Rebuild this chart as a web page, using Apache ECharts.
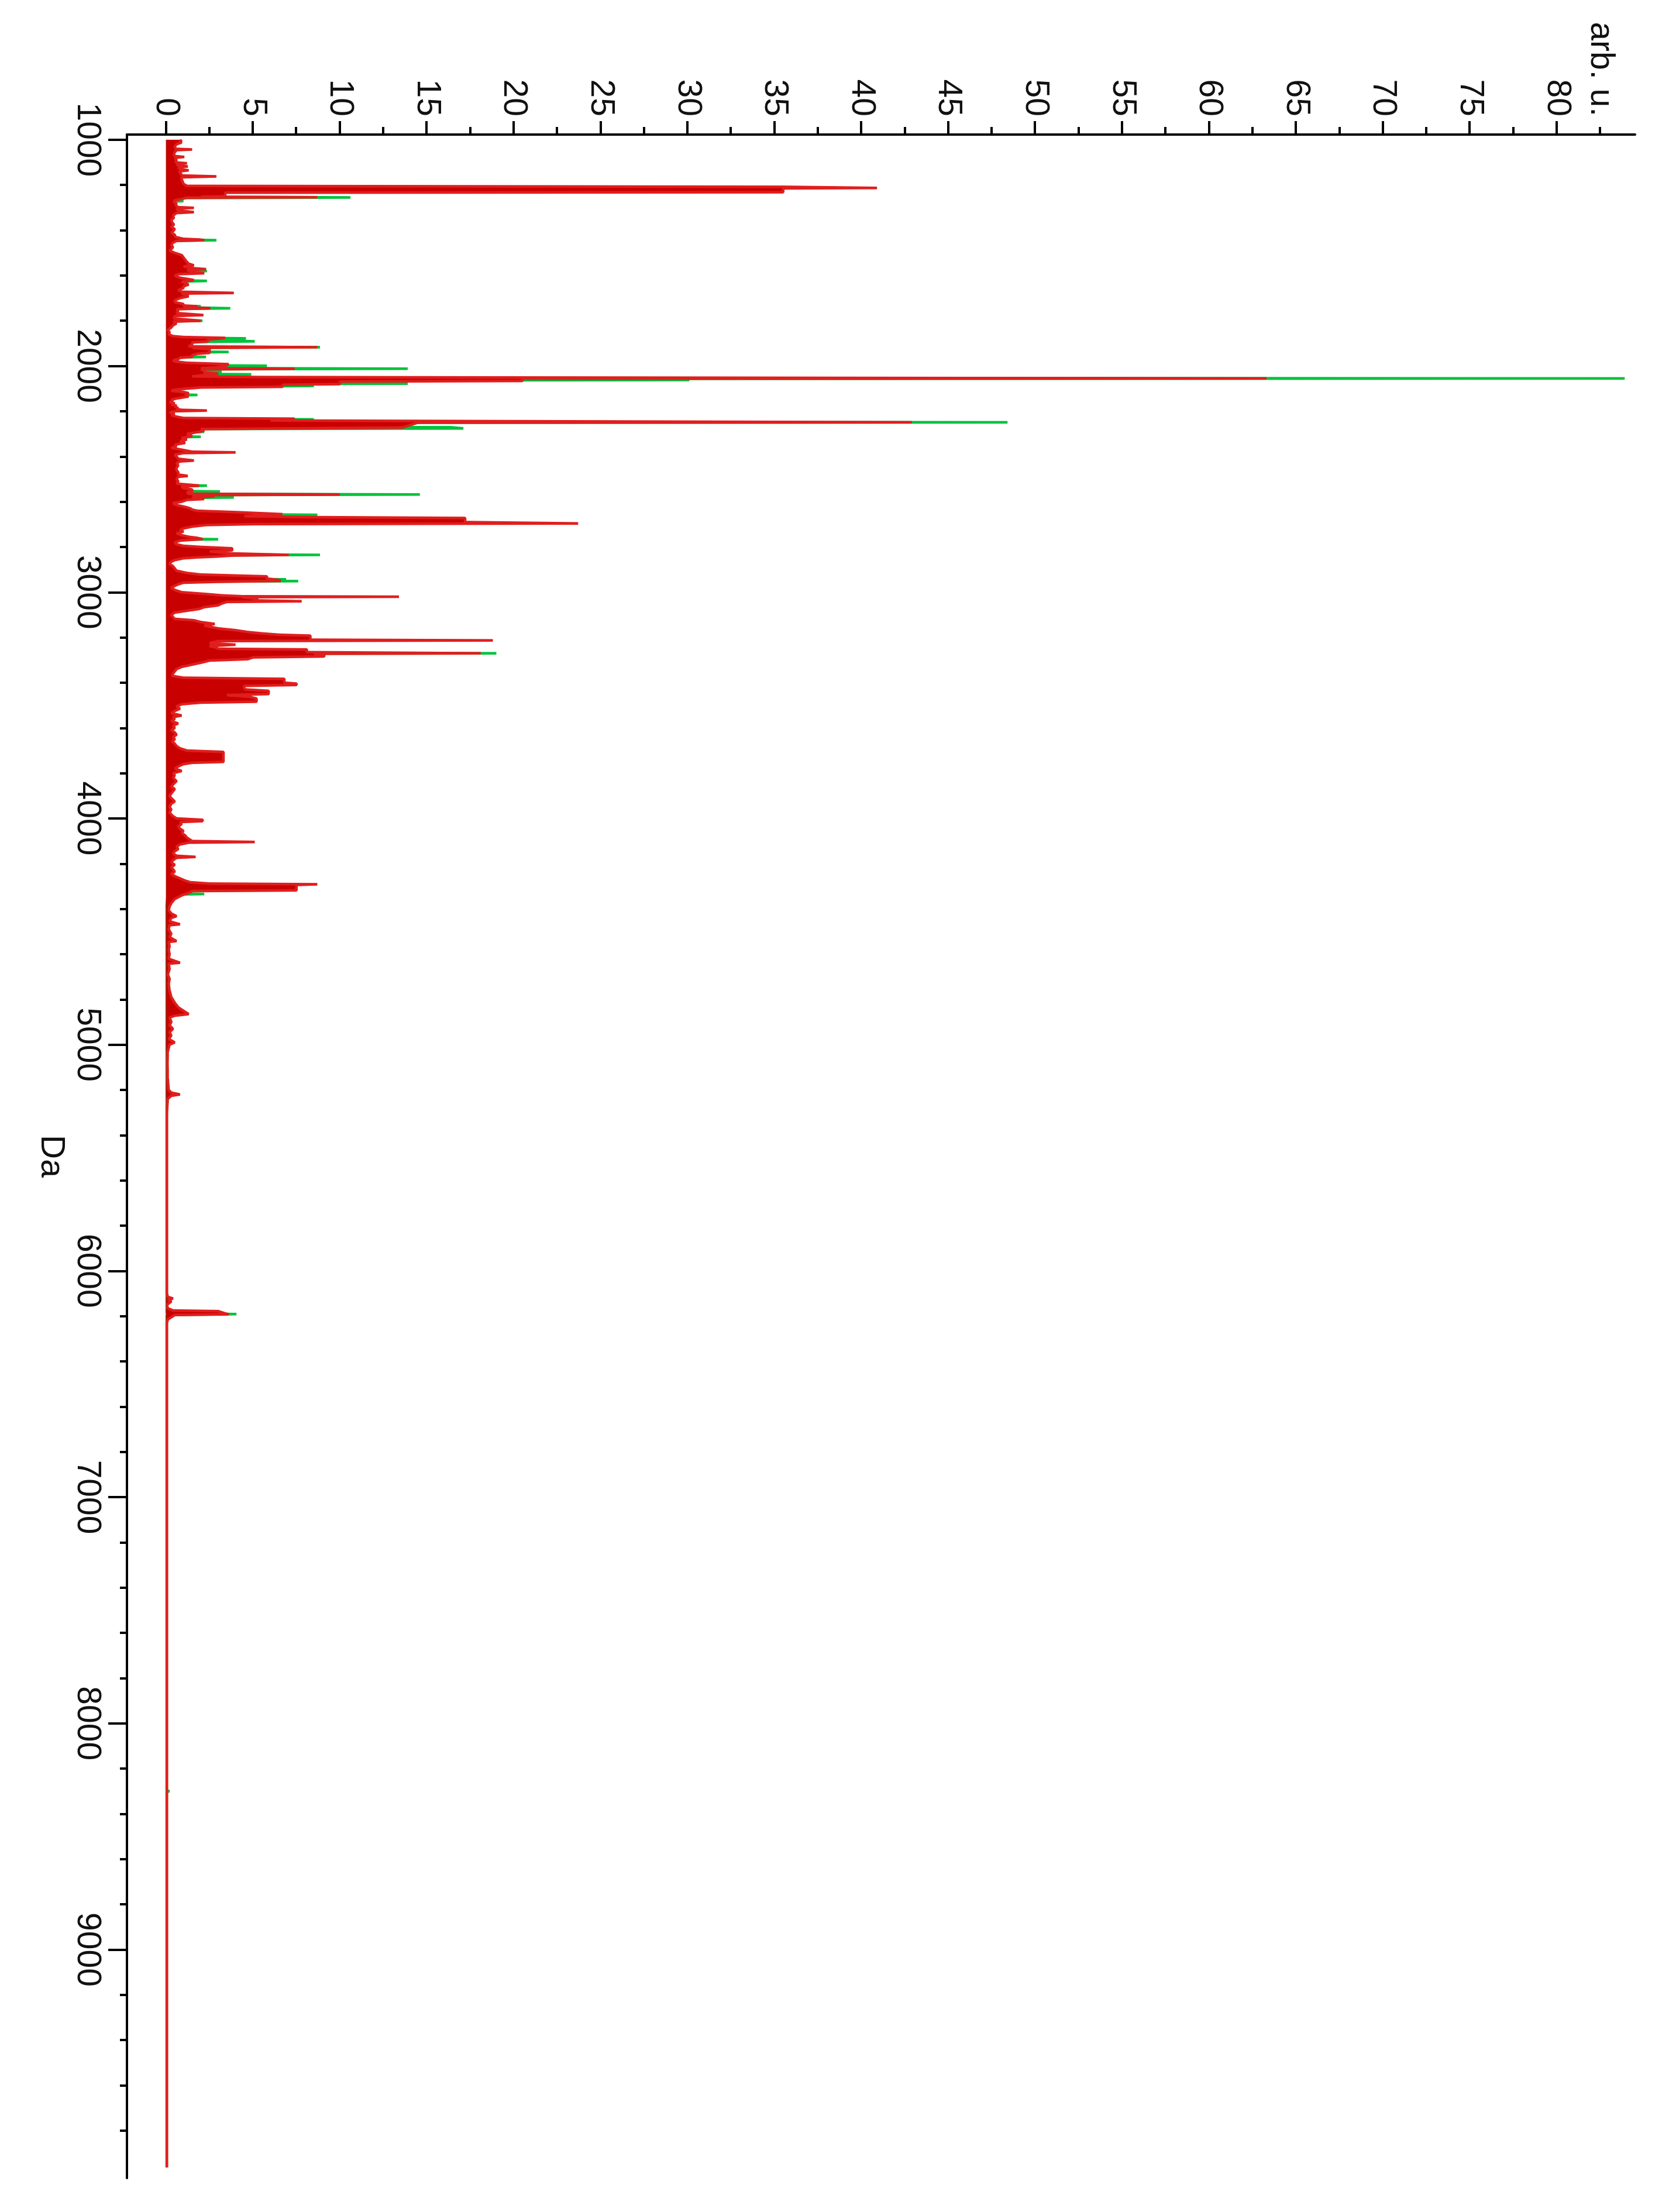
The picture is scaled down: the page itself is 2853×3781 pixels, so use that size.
<!DOCTYPE html>
<html>
<head>
<meta charset="utf-8">
<script src="https://cdn.jsdelivr.net/npm/echarts@6/dist/echarts.min.js"></script>
<style>
html, body { margin:0; padding:0; background:#fff; overflow:hidden; width:2853px; height:3781px; }
#frame { position:absolute; left:0; top:0; width:2853px; height:3781px; overflow:hidden; background:#fff; }
#chart { position:absolute; left:0; top:0; width:3781px; height:2853px; transform-origin:0 0; transform:translate(2853px,0) rotate(90deg); }
</style>
</head>
<body>
<div id="frame"><div id="chart"></div></div>
<script>
// ---- tick values / labels ----
const daMajorTicks = [1000, 2000, 3000, 4000, 5000, 6000, 7000, 8000, 9000];
const daMinorTicks = [1200, 1400, 1600, 1800, 2200, 2400, 2600, 2800, 3200, 3400, 3600, 3800,
  4200, 4400, 4600, 4800, 5200, 5400, 5600, 5800, 6200, 6400, 6600, 6800, 7200, 7400, 7600, 7800,
  8200, 8400, 8600, 8800, 9200, 9400, 9600, 9800];
const valueMajorTicks = [0, 5, 10, 15, 20, 25, 30, 35, 40, 45, 50, 55, 60, 65, 70, 75, 80];
const valueMinorTicks = [2.5, 7.5, 12.5, 17.5, 22.5, 27.5, 32.5, 37.5, 42.5, 47.5, 52.5, 57.5, 62.5, 67.5, 72.5, 77.5, 82.5];
const valueLabelTicks = [0, 5, 10, 15, 20, 25, 30, 35, 40, 45, 50, 55, 60, 65, 70, 75, 80, 82.5];
const unitLabelAt = 82.5;
const unitLabel = 'arb. u.';
const daAxisName = 'Da';

// ---- spectrum 1 (red, front): [Da, intensity] ----
const redSpectrum = [
[1000,0.9],[1004,0.95],[1008,0.8],[1012,0.9],[1016,0.85],[1020,0.6],[1030,0.5],[1040,0.55],[1043,1.5],[1046,0.6],
[1055,0.5],[1065,0.45],[1072,0.5],[1076,1.05],[1080,0.5],[1090,0.6],[1100,0.55],[1104,1.2],[1108,0.6],[1115,0.7],
[1118,1.25],[1122,0.7],[1130,0.8],[1135,1.3],[1140,0.75],[1150,0.85],[1158,0.9],[1162,2.9],[1166,0.9],[1175,0.9],
[1185,0.95],[1195,1.0],[1204,1.2],[1208,35.5],[1212,35.5],[1213,40.9],[1215,35.5],[1232,35.5],[1234,3.4],[1250,3.4],
[1252,2.0],[1254,8.7],[1256,1.2],[1262,0.9],[1268,0.5],[1275,0.45],[1282,0.6],[1290,0.55],[1298,0.7],[1301,1.6],
[1304,0.6],[1312,0.7],[1320,1.6],[1324,0.6],[1335,0.4],[1345,0.45],[1355,0.3],[1365,0.35],[1375,0.45],[1385,0.3],
[1395,0.5],[1405,0.4],[1412,0.3],[1420,0.5],[1430,0.55],[1438,1.0],[1441,1.9],[1444,2.2],[1447,0.6],[1455,0.4],
[1465,0.3],[1475,0.4],[1490,0.2],[1500,0.5],[1510,0.9],[1520,1.0],[1530,1.1],[1540,1.2],[1548,1.3],[1555,1.6],
[1560,1.0],[1568,1.6],[1572,2.3],[1576,1.2],[1585,1.6],[1590,2.2],[1594,0.7],[1600,0.5],[1610,0.8],[1620,1.6],
[1624,1.6],[1628,0.9],[1640,1.3],[1648,1.0],[1655,1.0],[1665,0.7],[1672,0.9],[1677,3.9],[1680,0.9],[1692,1.3],
[1700,0.8],[1710,0.5],[1718,0.5],[1726,1.0],[1733,1.0],[1736,1.8],[1740,1.0],[1745,2.55],[1749,0.6],[1758,0.7],
[1766,0.6],[1775,2.15],[1779,0.5],[1790,0.45],[1800,2.0],[1804,0.4],[1812,0.6],[1820,0.4],[1830,0.3],[1840,0.1],
[1850,0.2],[1860,0.15],[1868,0.4],[1872,1.0],[1876,3.4],[1880,3.4],[1884,2.4],[1892,2.4],[1896,1.5],[1905,1.5],
[1910,1.5],[1914,1.3],[1917,8.7],[1920,1.5],[1926,2.5],[1942,2.5],[1946,1.8],[1952,1.5],[1960,1.5],[1964,0.8],
[1970,0.7],[1975,0.4],[1980,0.5],[1986,1.2],[1992,3.6],[2000,3.4],[2006,2.8],[2010,2.0],[2012,7.4],[2015,2.0],
[2020,2.2],[2028,2.2],[2034,3.0],[2038,3.0],[2042,2.0],[2046,1.5],[2049,5.5],[2051,20.5],[2054,20.5],[2055,63.3],
[2056,20.5],[2066,20.5],[2069,10.0],[2080,10.0],[2083,6.7],[2092,6.7],[2095,2.0],[2100,1.2],[2105,0.5],[2110,0.3],
[2115,1.0],[2120,1.3],[2125,1.2],[2130,1.1],[2135,1.3],[2140,0.9],[2145,0.5],[2150,0.3],[2155,0.4],[2160,0.2],
[2165,0.5],[2170,0.3],[2175,0.6],[2180,0.5],[2186,0.7],[2190,0.6],[2194,0.9],[2197,2.35],[2200,0.5],[2206,0.2],
[2212,0.5],[2218,0.3],[2224,0.6],[2230,1.0],[2233,7.4],[2238,7.4],[2241,6.0],[2243,14.5],[2248,14.5],[2249,42.9],
[2250,14.5],[2272,13.6],[2276,13.6],[2279,2.0],[2284,2.2],[2290,2.0],[2295,2.0],[2300,1.2],[2310,1.5],[2318,0.9],
[2325,1.2],[2332,0.8],[2340,1.1],[2348,0.5],[2355,0.6],[2362,0.3],[2370,0.9],[2375,0.9],[2379,1.5],[2382,4.0],
[2385,1.0],[2392,0.5],[2400,0.6],[2410,0.7],[2418,1.6],[2422,0.8],[2430,0.6],[2440,0.7],[2450,0.6],[2460,0.6],
[2470,0.7],[2480,0.7],[2486,1.25],[2490,0.7],[2500,0.6],[2510,0.7],[2520,0.6],[2526,1.5],[2529,1.9],[2533,0.9],
[2540,1.0],[2546,1.5],[2555,1.5],[2558,1.2],[2565,1.3],[2568,10.0],[2571,1.5],[2575,2.8],[2580,2.8],[2584,1.5],
[2588,2.2],[2592,1.2],[2600,0.9],[2606,0.4],[2612,0.5],[2618,0.8],[2625,1.2],[2630,1.4],[2635,1.5],[2640,1.8],
[2646,4.0],[2650,4.0],[2655,6.7],[2660,6.7],[2664,4.5],[2668,8.0],[2672,17.2],[2690,17.2],[2696,23.7],[2699,5.0],
[2703,2.3],[2710,1.5],[2718,1.0],[2725,0.8],[2732,1.0],[2740,0.6],[2748,0.9],[2755,1.3],[2760,1.8],[2765,2.1],
[2768,2.1],[2772,0.8],[2780,0.5],[2788,0.6],[2795,1.0],[2800,2.0],[2806,3.8],[2815,3.8],[2820,2.5],[2828,3.5],
[2835,7.05],[2838,3.8],[2842,3.0],[2846,1.8],[2850,1.0],[2858,0.5],[2865,0.3],[2875,0.2],[2885,0.4],[2895,0.5],
[2905,0.6],[2915,1.2],[2922,2.0],[2930,5.8],[2940,5.8],[2945,6.4],[2950,6.6],[2954,3.0],[2958,1.0],[2965,0.7],
[2972,0.5],[2980,0.3],[2990,0.5],[3000,0.9],[3008,2.3],[3014,3.2],[3018,4.4],[3020,13.4],[3022,4.4],[3030,5.3],
[3036,5.0],[3040,7.8],[3043,3.5],[3050,3.2],[3058,3.0],[3066,2.2],[3074,1.9],[3082,1.2],[3090,0.5],[3100,0.3],
[3110,0.4],[3118,0.5],[3124,1.6],[3132,2.0],[3140,2.8],[3148,2.2],[3154,2.6],[3160,3.0],[3168,4.0],[3176,4.7],
[3182,5.5],[3188,6.5],[3192,8.3],[3210,8.3],[3213,18.8],[3216,3.0],[3225,2.5],[3232,4.0],[3238,2.5],[3245,2.9],
[3250,3.0],[3253,8.1],[3265,8.1],[3270,18.1],[3272,8.5],[3275,9.1],[3284,9.1],[3288,5.0],[3296,4.7],[3302,2.5],
[3310,2.1],[3320,1.5],[3330,0.9],[3340,0.6],[3350,0.5],[3360,0.4],[3370,0.35],[3378,1.0],[3383,6.8],[3400,6.8],
[3404,7.5],[3410,7.5],[3414,4.5],[3425,4.5],[3430,4.6],[3436,5.9],[3450,5.9],[3455,3.5],[3462,4.8],[3470,5.2],
[3484,5.2],[3488,2.0],[3495,0.9],[3505,0.6],[3515,0.8],[3525,0.5],[3535,0.3],[3545,0.9],[3552,0.4],[3560,0.5],
[3570,0.3],[3580,0.7],[3590,0.4],[3600,0.5],[3610,0.3],[3620,0.5],[3630,0.6],[3640,0.4],[3650,0.5],[3660,0.35],
[3670,0.5],[3680,0.6],[3690,0.8],[3700,1.2],[3706,3.3],[3750,3.3],[3754,1.5],[3760,1.0],[3770,0.7],[3780,0.5],
[3790,0.9],[3800,0.4],[3810,0.5],[3820,0.4],[3835,0.6],[3850,0.4],[3860,0.3],[3870,0.5],[3880,0.4],[3890,0.3],
[3900,0.2],[3910,0.3],[3925,0.5],[3935,0.3],[3950,0.2],[3960,0.3],[3975,0.2],[3990,0.4],[4000,0.6],[4006,2.1],
[4012,2.1],[4016,0.8],[4025,0.9],[4035,0.7],[4045,0.8],[4055,1.0],[4065,0.9],[4075,1.1],[4085,1.2],[4095,1.4],
[4100,1.5],[4104,5.1],[4107,1.3],[4115,0.8],[4125,0.6],[4135,0.7],[4145,0.5],[4155,0.4],[4165,0.6],[4170,1.7],
[4174,0.6],[4185,0.4],[4195,0.3],[4205,0.5],[4215,0.3],[4225,0.4],[4235,0.5],[4245,0.3],[4255,0.5],[4265,0.8],
[4275,1.1],[4282,1.4],[4288,2.5],[4291,8.7],[4294,7.5],[4318,7.5],[4321,1.5],[4326,1.4],[4332,1.2],[4340,0.9],
[4348,0.7],[4356,0.5],[4365,0.4],[4375,0.3],[4390,0.2],[4405,0.15],[4420,0.3],[4432,0.6],[4440,0.3],[4455,0.2],
[4468,0.8],[4472,0.2],[4490,0.15],[4510,0.3],[4525,0.2],[4542,0.6],[4546,0.15],[4565,0.2],[4580,0.15],[4600,0.2],
[4620,0.15],[4638,0.8],[4642,0.15],[4665,0.2],[4690,0.1],[4710,0.2],[4730,0.15],[4760,0.2],[4790,0.3],[4815,0.5],
[4835,0.7],[4850,1.0],[4865,1.3],[4872,0.5],[4880,0.2],[4900,0.3],[4915,0.2],[4930,0.4],[4945,0.2],[4960,0.3],
[4975,0.15],[4990,0.5],[5000,0.2],[5030,0.1],[5080,0.08],[5150,0.1],[5200,0.15],[5212,0.3],[5220,0.8],[5226,0.3],
[5240,0.1],[5300,0.05],[5600,0.05],[6000,0.05],[6100,0.05],[6115,0.1],[6122,0.4],[6128,0.1],[6135,0.3],[6150,0.05],
[6165,0.1],[6175,0.4],[6178,3.0],[6188,3.4],[6192,3.6],[6195,0.5],[6205,0.3],[6215,0.1],[6230,0.05],[7000,0.05],
[8000,0.05],[9000,0.05],[9963,0.05]
];

// ---- spectrum 2 (green, behind): [Da, intensity] ----
const greenSpectrum = [
[1000,0.1],[1252,0.1],[1255,10.6],[1258,0.1],[1268,0.1],[1271,1.0],[1274,0.1],[1440,0.1],[1444,2.9],[1447,0.1],
[1576,0.1],[1580,2.35],[1584,0.1],[1620,0.1],[1624,2.35],[1628,0.1],[1733,0.1],[1736,2.0],[1739,0.1],[1742,0.1],
[1745,3.7],[1748,0.1],[1797,0.1],[1800,2.1],[1803,0.1],[1874,0.1],[1878,4.6],[1882,0.1],[1887,0.1],[1891,5.1],
[1895,0.1],[1914,0.1],[1917,8.85],[1920,0.1],[1935,0.1],[1938,3.6],[1942,0.1],[1957,0.1],[1960,2.3],[1963,0.1],
[1996,0.1],[1999,5.8],[2002,0.1],[2009,0.1],[2012,13.9],[2015,0.1],[2022,0.1],[2025,3.2],[2028,0.1],[2034,0.1],
[2037,4.9],[2040,0.1],[2052,0.1],[2055,83.9],[2058,0.1],[2059,0.1],[2062,30.1],[2065,0.1],[2075,0.1],[2078,13.9],
[2081,0.1],[2086,0.1],[2088,8.5],[2092,8.5],[2094,0.1],[2125,0.1],[2128,1.8],[2131,0.1],[2233,0.1],[2236,8.5],
[2239,0.1],[2246,0.1],[2249,48.4],[2252,0.1],[2268,0.1],[2271,16.4],[2276,17.1],[2279,0.1],[2288,0.1],[2291,2.2],
[2294,0.1],[2310,0.1],[2313,2.0],[2316,0.1],[2526,0.1],[2529,2.35],[2532,0.1],[2552,0.1],[2555,3.1],[2558,0.1],
[2565,0.1],[2568,14.6],[2571,0.1],[2578,0.1],[2581,3.9],[2584,0.1],[2647,0.1],[2650,4.1],[2653,0.1],[2655,0.1],
[2658,8.7],[2661,0.1],[2763,0.1],[2766,3.0],[2769,0.1],[2810,0.1],[2813,3.85],[2816,0.1],[2832,0.1],[2835,8.85],
[2838,0.1],[2940,0.1],[2943,6.9],[2946,0.1],[2948,0.1],[2951,7.6],[2954,0.1],[3267,0.1],[3270,19.0],[3273,0.1],
[4331,0.1],[4334,2.2],[4337,0.1],[4380,0.04],[6187,0.04],[6191,4.05],[6195,0.04],[8297,0.04],[8300,0.2],[8303,0.04],
[9963,0.04]
];

const FONT = 'Liberation Sans, Arial, Helvetica, sans-serif';
const daRange = { min: 977, max: 10010 };
const valRange = { min: -2.25, max: 84.5 };

const chart = echarts.init(document.getElementById('chart'), null, { renderer: 'canvas' });
chart.setOption({
  animation: false,
  backgroundColor: '#ffffff',
  grid: { left: 230, right: 58, top: 58, bottom: 217, containLabel: false, outerBoundsMode: 'none' },
  xAxis: [
    {
      type: 'value', position: 'bottom', min: daRange.min, max: daRange.max,
      name: daAxisName, nameLocation: 'middle', nameGap: 91,
      nameTextStyle: { fontSize: 57, fontFamily: FONT, color: '#111' },
      axisLine: { show: true, onZero: false, lineStyle: { color: '#000', width: 4 } },
      axisTick: { show: true, customValues: daMajorTicks, length: 32, inside: false, lineStyle: { color: '#000', width: 4 } },
      axisLabel: {
        show: true, customValues: daMajorTicks, margin: 40, fontSize: 57, fontFamily: FONT, color: '#111',
        formatter: function (v) { return String(Math.round(v)); }
      },
      splitLine: { show: false }, minorTick: { show: false }
    },
    {
      type: 'value', position: 'bottom', min: daRange.min, max: daRange.max,
      axisLine: { show: false, onZero: false },
      axisTick: { show: true, customValues: daMinorTicks, length: 12, inside: false, lineStyle: { color: '#000', width: 4 } },
      axisLabel: { show: false }, splitLine: { show: false }
    }
  ],
  yAxis: [
    {
      type: 'value', position: 'left', min: valRange.min, max: valRange.max,
      axisLine: { show: true, onZero: false, lineStyle: { color: '#000', width: 4 } },
      axisTick: { show: true, customValues: valueMajorTicks, length: 23, inside: false, lineStyle: { color: '#000', width: 4 } },
      axisLabel: {
        show: true, customValues: valueLabelTicks, margin: 31, fontSize: 57, fontFamily: FONT, color: '#111',
        formatter: function (v) { return Math.abs(v - unitLabelAt) < 1e-6 ? unitLabel : String(v); }
      },
      splitLine: { show: false }
    },
    {
      type: 'value', position: 'left', min: valRange.min, max: valRange.max,
      axisLine: { show: false, onZero: false },
      axisTick: { show: true, customValues: valueMinorTicks, length: 13, inside: false, lineStyle: { color: '#000', width: 4 } },
      axisLabel: { show: false }, splitLine: { show: false }
    }
  ],
  series: [
    {
      name: 'spectrum B', type: 'line', xAxisIndex: 0, yAxisIndex: 0, data: greenSpectrum,
      showSymbol: false, symbol: 'none', silent: true, z: 2,
      lineStyle: { color: '#00C23C', width: 4.5, join: 'bevel' },
      areaStyle: { color: '#00B838', opacity: 1 }
    },
    {
      name: 'spectrum A', type: 'line', xAxisIndex: 0, yAxisIndex: 0, data: redSpectrum,
      showSymbol: false, symbol: 'none', silent: true, z: 3,
      lineStyle: { color: '#E01E1E', width: 4.5, join: 'bevel' },
      areaStyle: { color: '#C80000', opacity: 1 }
    }
  ]
});
</script>
</body>
</html>
